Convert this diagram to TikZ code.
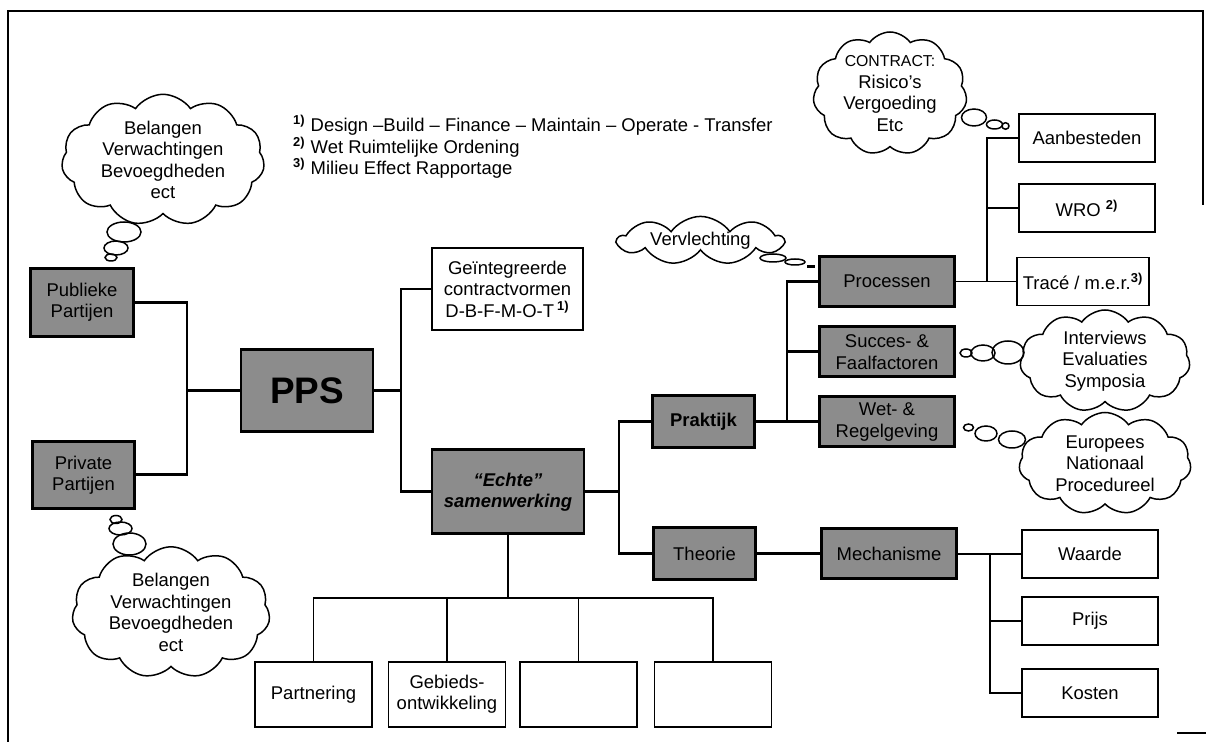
\documentclass[tikz,border=0pt]{standalone}
\usepackage{fontspec}
\setmainfont{Liberation Sans}
\usepackage{tikz}
\usetikzlibrary{shapes.symbols}
\definecolor{boxshade}{RGB}{140,140,140}
\newcommand{\diagfont}{\fontsize{10.5}{12.2}\selectfont}
\newcommand{\fnmark}[1]{\textsuperscript{\bfseries #1)}}

\begin{document}
\begin{tikzpicture}[
    font=\diagfont,
    party/.style={rectangle, draw=black, line width=1.7pt, fill=boxshade, align=center, minimum width=2.05cm, minimum height=1.35cm},
    topic/.style={rectangle, draw=black, line width=1.7pt, fill=boxshade, align=center, minimum width=2.70cm, minimum height=1.0cm},
    leaf/.style={rectangle, draw=black, line width=0.85pt, fill=white, align=center, minimum width=2.72cm, minimum height=0.96cm},
    basebox/.style={leaf, minimum width=2.34cm, minimum height=1.30cm},
    thought/.style={cloud, draw=black, line width=0.85pt, fill=white, cloud puffs=11, cloud puff arc=110, cloud ignores aspect, align=center, inner sep=0pt},
    heavyline/.style={line width=1.7pt},
    lightline/.style={line width=0.85pt},
    midline/.style={line width=1.2pt}
]
\useasboundingbox (0,0) rectangle (24.12,14.84);
\fill[white] (0,0) rectangle (24.12,14.84);
\draw[lightline] (0.16,0) -- (0.16,14.62) -- (24.06,14.62) -- (24.06,10.74);
\draw[lightline] (23.54,0.18) -- (24.12,0.18);

\node[anchor=west, align=left] (notes) at (5.74,11.90) {\fnmark{1} Design –Build – Finance – Maintain – Operate - Transfer\\\fnmark{2} Wet Ruimtelijke Ordening\\\fnmark{3} Milieu Effect Rapportage};

\node[party] (publiek) at (1.64,8.79) {Publieke\\Partijen};
\node[party] (private) at (1.67,5.34) {Private\\Partijen};
\node[party, minimum width=2.64cm, minimum height=1.64cm, font=\fontsize{21}{24}\selectfont\bfseries] (pps) at (6.14,7.02) {PPS};
\node[leaf, minimum width=3.02cm, minimum height=1.64cm] (geint) at (10.15,9.06) {Geïntegreerde\\contractvormen\\D-B-F-M-O-T\,\fnmark{1}};
\node[party, minimum width=3.04cm, minimum height=1.68cm, font=\diagfont\bfseries\itshape] (echte) at (10.16,5.00) {“Echte”\\samenwerking};
\node[party, minimum height=1.04cm, font=\diagfont\bfseries] (praktijk) at (14.07,6.40) {Praktijk};
\node[party, minimum height=1.04cm] (theorie) at (14.09,3.76) {Theorie};
\node[topic] (processen) at (17.74,9.21) {Processen};
\node[topic] (succes) at (17.74,7.80) {Succes- \&\\Faalfactoren};
\node[topic] (wet) at (17.74,6.40) {Wet- \&\\Regelgeving};
\node[topic] (mechanisme) at (17.78,3.76) {Mechanisme};
\node[leaf] (aanbesteden) at (21.74,12.08) {Aanbesteden};
\node[leaf] (wro) at (21.74,10.68) {WRO \fnmark{2}};
\node[leaf, minimum width=2.52cm] (trace) at (21.66,9.21) {Tracé / m.e.r.\fnmark{3}};
\node[leaf] (waarde) at (21.80,3.76) {Waarde};
\node[leaf] (prijs) at (21.80,2.42) {Prijs};
\node[leaf] (kosten) at (21.80,0.98) {Kosten};
\node[basebox] (partnering) at (6.27,0.95) {Partnering};
\node[basebox] (gebieds) at (8.94,0.95) {Gebieds-\\ontwikkeling};
\node[basebox] (blank1) at (11.57,0.95) {};
\node[basebox] (blank2) at (14.26,0.95) {};

\node[thought, minimum width=4.06cm, minimum height=2.52cm] (wishes1) at (3.26,11.64) {Belangen\\Verwachtingen\\Bevoegdheden\\ect};
\node[thought, minimum width=3.96cm, minimum height=2.58cm] (wishes2) at (3.42,2.59) {Belangen\\Verwachtingen\\Bevoegdheden\\ect};
\node[thought, minimum width=3.08cm, minimum height=2.46cm] (contract) at (17.80,12.97) {{\fontsize{9}{11}\selectfont CONTRACT:}\\Risico’s\\Vergoeding\\Etc};
\node[thought, minimum width=3.40cm, minimum height=2.04cm] (sources) at (22.10,7.62) {Interviews\\Evaluaties\\Symposia};
\node[thought, minimum width=3.44cm, minimum height=2.04cm] (levels) at (22.10,5.57) {Europees\\Nationaal\\Procedureel};
\node[thought, cloud puffs=9, minimum width=3.30cm, minimum height=0.54cm] (weave) at (14.01,10.03) {Vervlechting};

\draw[lightline] (2.48,10.20) ellipse [x radius=0.34, y radius=0.20];
\draw[lightline] (2.32,9.88) ellipse [x radius=0.24, y radius=0.14];
\draw[lightline] (2.22,9.69) ellipse [x radius=0.12, y radius=0.07];
\draw[lightline] (2.32,4.45) ellipse [x radius=0.12, y radius=0.08];
\draw[lightline] (2.41,4.27) ellipse [x radius=0.23, y radius=0.13];
\draw[lightline] (2.59,3.96) ellipse [x radius=0.33, y radius=0.22];
\draw[lightline] (19.48,12.49) ellipse [x radius=0.25, y radius=0.17];
\draw[lightline] (19.89,12.35) ellipse [x radius=0.16, y radius=0.09];
\draw[lightline] (20.11,12.32) ellipse [x radius=0.07, y radius=0.065];
\draw[lightline] (19.32,7.78) ellipse [x radius=0.12, y radius=0.08];
\draw[lightline] (19.66,7.78) ellipse [x radius=0.24, y radius=0.16];
\draw[lightline] (20.16,7.79) ellipse [x radius=0.32, y radius=0.23];
\draw[lightline] (19.37,6.29) ellipse [x radius=0.10, y radius=0.07];
\draw[lightline] (19.72,6.17) ellipse [x radius=0.22, y radius=0.15];
\draw[lightline] (20.24,6.05) ellipse [x radius=0.27, y radius=0.17];
\draw[lightline] (15.46,9.68) ellipse [x radius=0.26, y radius=0.08];
\draw[lightline] (15.90,9.60) ellipse [x radius=0.20, y radius=0.06];
\draw[midline] (16.14,9.51) -- (16.30,9.51);

\coordinate (pjoin) at (3.74,7.02);
\coordinate (sjoin) at (8.02,7.02);
\coordinate (ejoin) at (12.38,5.00);
\coordinate (kjoin) at (15.74,6.40);
\coordinate (rjoin) at (19.74,9.21);
\coordinate (mjoin) at (19.80,3.76);
\coordinate (bjoin) at (10.16,2.88);

\draw[heavyline] (publiek.east) -- (publiek.east -| pjoin) -- (private.east -| pjoin) -- (private.east);
\draw[heavyline] (pjoin) -- (pps.west);
\draw[heavyline] (pps.east) -- (sjoin) |- (echte.west);
\draw[lightline] (sjoin) |- (geint.west);
\draw[heavyline] (echte.east) -- (ejoin);
\draw[heavyline] (praktijk.west) -| (ejoin) |- (theorie.west);
\draw[heavyline] (praktijk.east) -- (wet.west);
\draw[heavyline] (kjoin) |- (processen.west);
\draw[heavyline] (kjoin |- succes.west) -- (succes.west);
\draw[lightline] (processen.east) -- (trace.west);
\draw[lightline] (rjoin) |- (aanbesteden.west);
\draw[lightline] (rjoin |- wro.west) -- (wro.west);
\draw[heavyline] (theorie.east) -- (mechanisme.west);
\draw[midline] (mechanisme.east) -- (waarde.west);
\draw[midline] (mjoin) |- (kosten.west);
\draw[midline] (mjoin |- prijs.west) -- (prijs.west);
\draw[lightline] (echte.south) -- (bjoin);
\draw[lightline] (partnering.north) |- (bjoin) -| (blank2.north);
\draw[lightline] (gebieds.north) -- (gebieds.north |- bjoin);
\draw[lightline] (blank1.north) -- (blank1.north |- bjoin);
\end{tikzpicture}
\end{document}
